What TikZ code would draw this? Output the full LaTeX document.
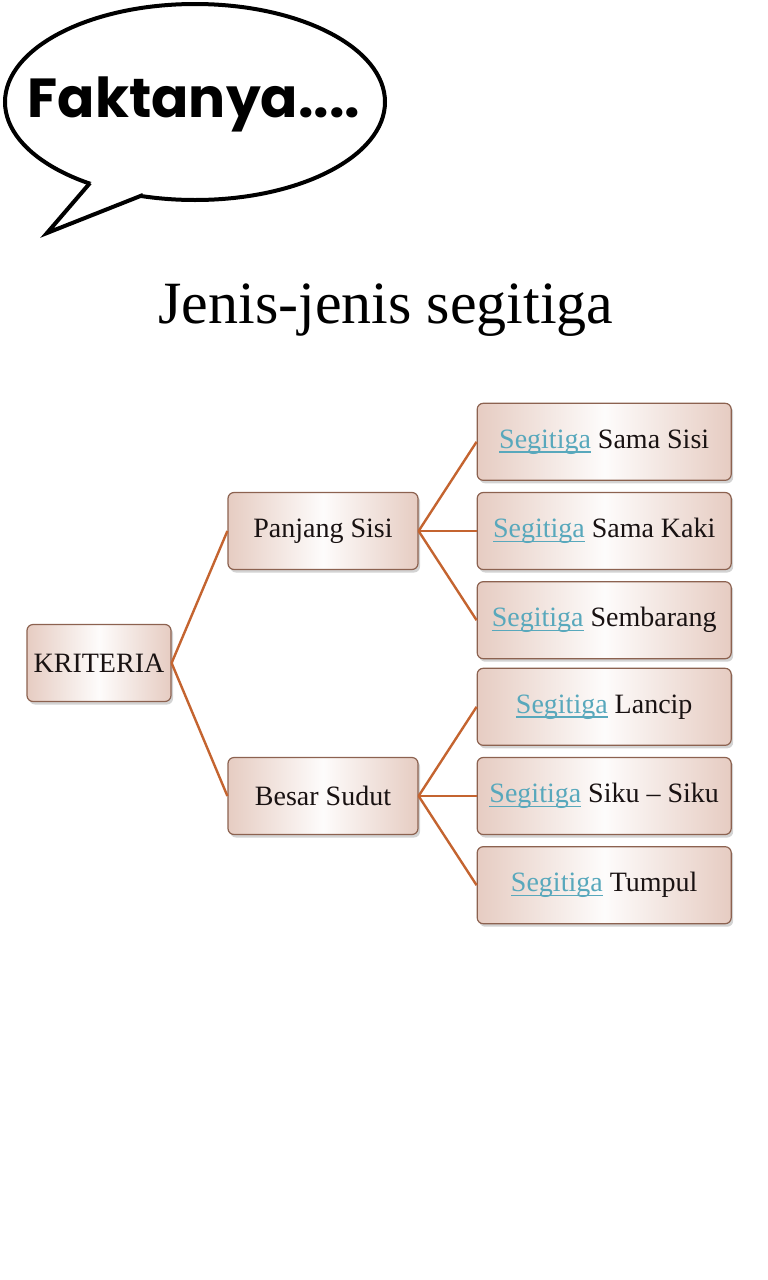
\documentclass[tikz,border=0pt]{standalone}
\usepackage{fontspec}
\setmainfont{Liberation Serif}
\newfontfamily\bubblefont{Poppins}
\usetikzlibrary{positioning,shapes.geometric,shadows}
\definecolor{linkteal}{RGB}{88,168,188}
\definecolor{branchorange}{RGB}{196,100,48}
\definecolor{boxedge}{RGB}{140,98,80}
\definecolor{boxpink}{RGB}{230,204,194}
\definecolor{inktext}{RGB}{25,18,18}
\newcommand{\linkword}[1]{\textcolor{linkteal}{\setbox0=\hbox{#1}\rlap{\rule[-0.16em]{\wd0}{0.06em}}\box0}}

\begin{document}
\begin{tikzpicture}[
  x=1pt, y=-1pt,
  box/.style={draw=boxedge, line width=1.2pt, rounded corners=6pt, minimum height=77pt, align=center,
    font=\fontsize{28}{30}\selectfont, text=inktext,
    left color=boxpink, right color=boxpink, middle color=white!94!boxpink,
    drop shadow={opacity=0.35, shadow xshift=2pt, shadow yshift=-3pt}},
  midbox/.style={box, minimum width=190pt},
  leafbox/.style={box, minimum width=254pt},
  branch/.style={draw=branchorange, line width=2.4pt}
]
\useasboundingbox (0,0) rectangle (768,1280);
% speech bubble
\draw[line width=4pt, fill=white] (195,102) ellipse [x radius=190, y radius=98];
\fill[white] (90,183) -- (47,233) -- (143,195) -- (120,170) -- cycle;
\draw[line width=4pt, line join=miter] (90,183) -- (47,233) -- (143,195);
\node[font=\bubblefont\bfseries\fontsize{55}{57}\selectfont, anchor=base] (bubble) at (194,117) {Faktanya....};
% title
\node[anchor=base, font=\fontsize{60}{62}\selectfont] (title) at (386,323) {Jenis-jenis segitiga};
% tree
\node[box, minimum width=144pt] (kri) at (99,663) {KRITERIA};
\node[midbox] (ps) at (323,531) {Panjang Sisi};
\node[midbox] (bs) at (323,796) {Besar Sudut};
\node[leafbox, right=58pt of ps] (r2) {\linkword{Segitiga} Sama Kaki};
\node[leafbox, above=11pt of r2] (r1) {\linkword{Segitiga} Sama Sisi};
\node[leafbox, below=11pt of r2] (r3) {\linkword{Segitiga} Sembarang};
\node[leafbox, right=58pt of bs] (r5) {\linkword{Segitiga} Siku -- Siku};
\node[leafbox, above=11pt of r5] (r4) {\linkword{Segitiga} Lancip};
\node[leafbox, below=11pt of r5] (r6) {\linkword{Segitiga} Tumpul};
\foreach \a/\b in {kri/ps,kri/bs,ps/r1,ps/r2,ps/r3,bs/r4,bs/r5,bs/r6}
  \draw[branch] (\a.east) -- (\b.west);
\end{tikzpicture}
\end{document}
